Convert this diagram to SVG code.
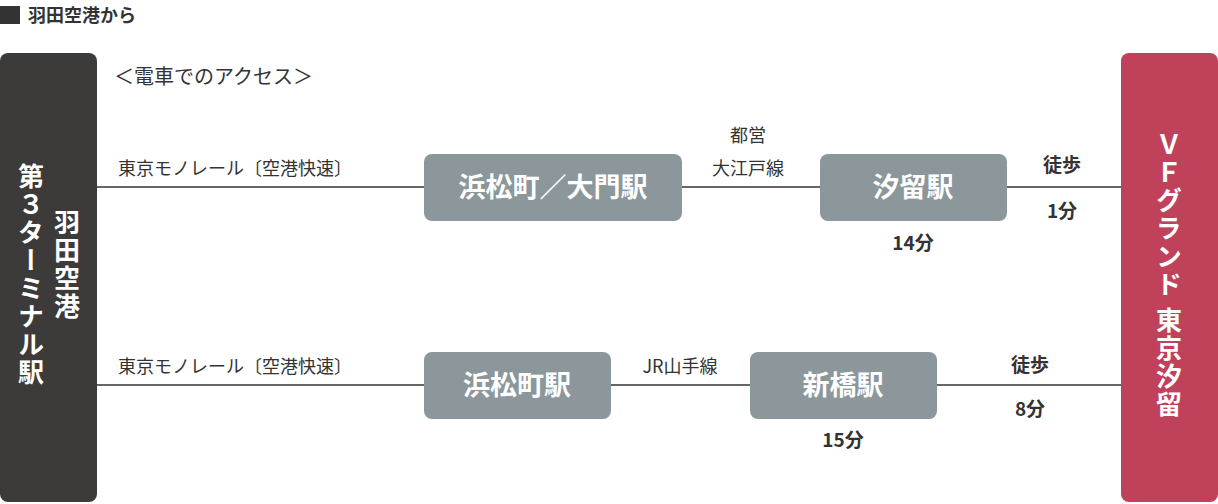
<svg xmlns="http://www.w3.org/2000/svg" width="1218" height="504" viewBox="0 0 1218 504">
<style>
text{font-family:"Noto Sans CJK JP","Noto Sans",sans-serif;fill:#333}
.lbl{font-size:18px}
.b{font-weight:bold;font-size:19px;text-anchor:middle}
.node rect{fill:#8c979b}
.node text{fill:#fff;font-size:27px;font-weight:bold;text-anchor:middle}
.v{writing-mode:vertical-rl;fill:#fff;font-size:26px;font-weight:bold;text-anchor:middle;letter-spacing:2px}
.ln{stroke:#333;stroke-width:1.5}
</style>
<rect x="0" y="6" width="20" height="18" fill="#333"/>
<text x="28" y="22" font-size="18" font-weight="bold">羽田空港から</text>
<text x="114" y="84" font-size="20">＜電車でのアクセス＞</text>
<g id="connectors">
<line class="ln" x1="97" y1="187" x2="1121" y2="187"/>
<line class="ln" x1="97" y1="385" x2="1121" y2="385"/>
</g>
<g id="haneda"><rect x="0" y="53" width="97" height="449" rx="8" fill="#3d3a3a"/>
<text class="v" x="67" y="265">羽田空港</text>
<text class="v" x="31" y="275">第３ターミナル駅</text></g>
<g id="vf"><rect x="1121" y="53" width="97" height="449" rx="8" fill="#c0415a"/>
<text class="v" x="1169" y="275">ＶＦグランド 東京汐留</text></g>
<text class="lbl" x="118" y="175">東京モノレール〔空港快速〕</text>
<text class="lbl" x="118" y="373">東京モノレール〔空港快速〕</text>
<g id="n1" class="node"><rect x="424" y="154" width="258" height="67" rx="8"/><text x="553" y="197">浜松町／大門駅</text></g>
<g id="n2" class="node"><rect x="820" y="154" width="187" height="67" rx="8"/><text x="913" y="197">汐留駅</text></g>
<g id="n3" class="node"><rect x="424" y="352" width="187" height="67" rx="8"/><text x="517" y="395">浜松町駅</text></g>
<g id="n4" class="node"><rect x="750" y="352" width="187" height="67" rx="8"/><text x="843" y="395">新橋駅</text></g>
<text class="lbl" x="748" y="142" text-anchor="middle">都営</text>
<text class="lbl" x="748" y="175" text-anchor="middle">大江戸線</text>
<text class="lbl" x="680" y="373" text-anchor="middle">JR山手線</text>
<text class="b" x="913" y="250">14分</text>
<text class="b" x="1062" y="172">徒歩</text>
<text class="b" x="1062" y="218">1分</text>
<text class="b" x="843" y="447">15分</text>
<text class="b" x="1030" y="372">徒歩</text>
<text class="b" x="1030" y="416">8分</text>
</svg>
